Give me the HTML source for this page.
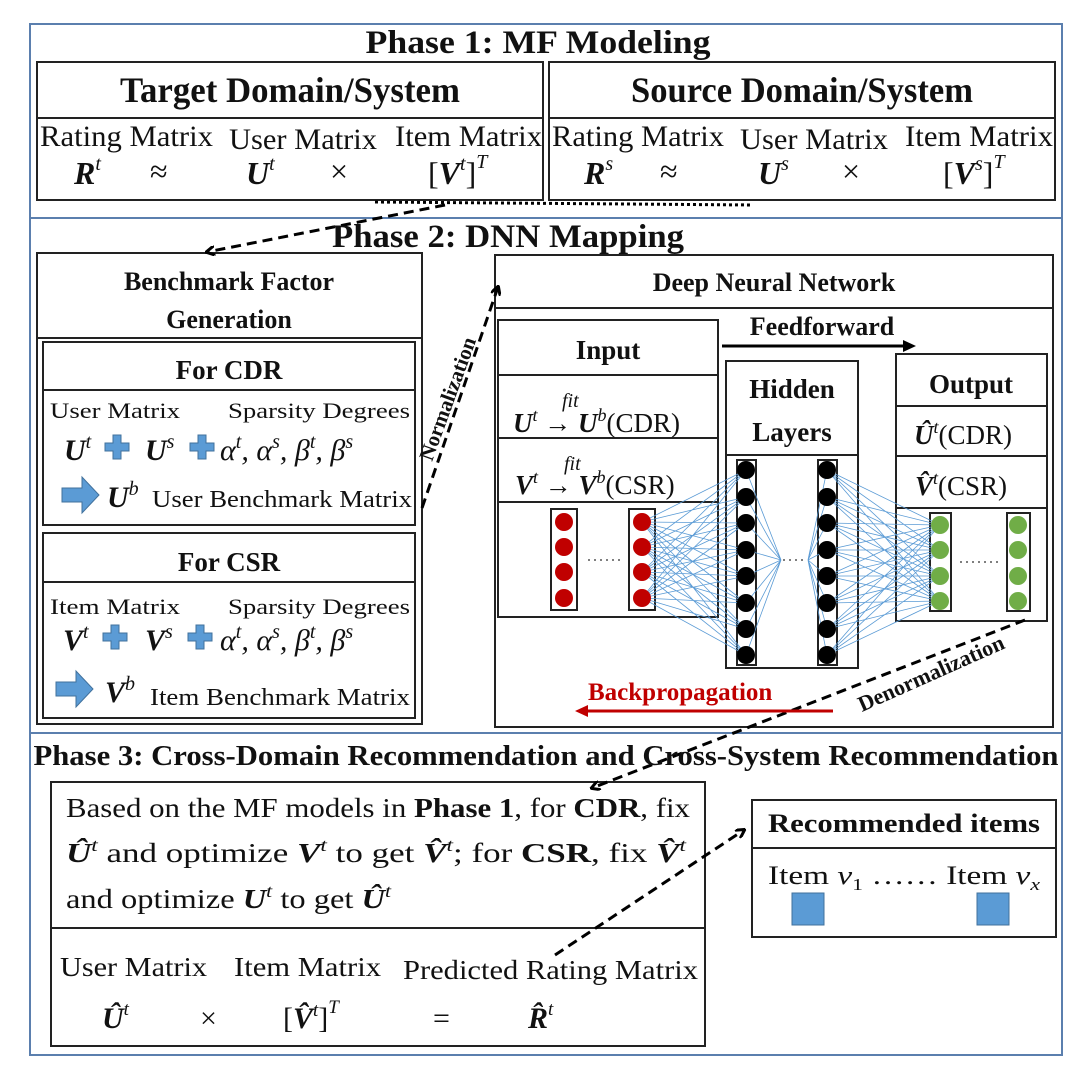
<!DOCTYPE html>
<html><head><meta charset="utf-8"><style>
html,body{margin:0;padding:0;background:#fff}
svg{display:block}
text{font-family:"Liberation Serif",serif;fill:#111}
.b{font-weight:bold}
.m{font-weight:bold;font-style:italic}
.i{font-style:italic}
</style></head><body>
<svg width="1080" height="1080" viewBox="0 0 1080 1080" xmlns="http://www.w3.org/2000/svg">
<defs>
<marker id="ah" markerWidth="10" markerHeight="10" refX="8" refY="5" orient="auto" markerUnits="userSpaceOnUse"><path d="M0,0 L9,5 L0,10" fill="none" stroke="#000" stroke-width="3"/></marker>
<g id="plus"><path d="M-4,-12h8v8h8v8h-8v8h-8v-8h-8v-8h8z" fill="#5b9bd5" stroke="#41719c" stroke-width="1"/></g>
<g id="barr"><path d="M0,-7h20v-11l17,18l-17,18v-11h-20z" fill="#5b9bd5" stroke="#41719c" stroke-width="1"/></g>
</defs>
<g fill="none" stroke="#5b7fae" stroke-width="2">
<rect x="30" y="24" width="1032" height="194"/>
<rect x="30" y="218" width="1032" height="515"/>
<rect x="30" y="733" width="1032" height="322"/>
</g>
<g fill="none" stroke="#222" stroke-width="2">
<rect x="37" y="62" width="506" height="138"/><line x1="37" y1="118" x2="543" y2="118"/>
<rect x="549" y="62" width="506" height="138"/><line x1="549" y1="118" x2="1055" y2="118"/>
<rect x="37" y="253" width="385" height="471"/><line x1="37" y1="338" x2="422" y2="338"/>
<rect x="43" y="342" width="372" height="183"/><line x1="43" y1="390" x2="415" y2="390"/>
<rect x="43" y="533" width="372" height="185"/><line x1="43" y1="582" x2="415" y2="582"/>
<rect x="495" y="255" width="558" height="472"/><line x1="495" y1="308" x2="1053" y2="308"/>
<rect x="498" y="320" width="220" height="297"/><line x1="498" y1="375" x2="718" y2="375"/><line x1="498" y1="438" x2="718" y2="438"/><line x1="498" y1="502" x2="718" y2="502"/>
<rect x="726" y="361" width="132" height="307"/><line x1="726" y1="455" x2="858" y2="455"/>
<rect x="896" y="354" width="151" height="267"/><line x1="896" y1="406" x2="1047" y2="406"/><line x1="896" y1="456" x2="1047" y2="456"/><line x1="896" y1="508" x2="1047" y2="508"/>
<rect x="51" y="782" width="654" height="264"/><line x1="51" y1="928" x2="705" y2="928"/>
<rect x="752" y="800" width="304" height="137"/><line x1="752" y1="848" x2="1056" y2="848"/>
<rect x="551" y="509" width="26" height="101"/><rect x="629" y="509" width="26" height="101"/>
<rect x="737" y="460" width="19" height="205"/><rect x="818" y="460" width="19" height="205"/>
<rect x="930" y="513" width="21" height="98"/><rect x="1007" y="513" width="23" height="98"/>
</g>
<g stroke="#5b9bd5" stroke-width="0.8" fill="none">
<path d="M642 522L746 470M642 522L746 497M642 522L746 523M642 522L746 550M642 522L746 576M642 522L746 603M642 522L746 629M642 522L746 655M642 547L746 470M642 547L746 497M642 547L746 523M642 547L746 550M642 547L746 576M642 547L746 603M642 547L746 629M642 547L746 655M642 572L746 470M642 572L746 497M642 572L746 523M642 572L746 550M642 572L746 576M642 572L746 603M642 572L746 629M642 572L746 655M642 598L746 470M642 598L746 497M642 598L746 523M642 598L746 550M642 598L746 576M642 598L746 603M642 598L746 629M642 598L746 655"/>
<path d="M746 470L781 560M746 497L781 560M746 523L781 560M746 550L781 560M746 576L781 560M746 603L781 560M746 629L781 560M746 655L781 560M827 470L808 560M827 497L808 560M827 523L808 560M827 550L808 560M827 576L808 560M827 603L808 560M827 629L808 560M827 655L808 560"/>
<path d="M827 470L940 525M827 470L940 550M827 470L940 576M827 470L940 601M827 497L940 525M827 497L940 550M827 497L940 576M827 497L940 601M827 523L940 525M827 523L940 550M827 523L940 576M827 523L940 601M827 550L940 525M827 550L940 550M827 550L940 576M827 550L940 601M827 576L940 525M827 576L940 550M827 576L940 576M827 576L940 601M827 603L940 525M827 603L940 550M827 603L940 576M827 603L940 601M827 629L940 525M827 629L940 550M827 629L940 576M827 629L940 601M827 655L940 525M827 655L940 550M827 655L940 576M827 655L940 601"/>
</g>
<g fill="#c00000">
<circle cx="564" cy="522" r="9"/><circle cx="564" cy="547" r="9"/><circle cx="564" cy="572" r="9"/><circle cx="564" cy="598" r="9"/>
<circle cx="642" cy="522" r="9"/><circle cx="642" cy="547" r="9"/><circle cx="642" cy="572" r="9"/><circle cx="642" cy="598" r="9"/>
</g>
<g fill="#000">
<circle cx="746" cy="470" r="9"/><circle cx="746" cy="497" r="9"/><circle cx="746" cy="523" r="9"/><circle cx="746" cy="550" r="9"/><circle cx="746" cy="576" r="9"/><circle cx="746" cy="603" r="9"/><circle cx="746" cy="629" r="9"/><circle cx="746" cy="655" r="9"/>
<circle cx="827" cy="470" r="9"/><circle cx="827" cy="497" r="9"/><circle cx="827" cy="523" r="9"/><circle cx="827" cy="550" r="9"/><circle cx="827" cy="576" r="9"/><circle cx="827" cy="603" r="9"/><circle cx="827" cy="629" r="9"/><circle cx="827" cy="655" r="9"/>
</g>
<g fill="#70ad47">
<circle cx="940" cy="525" r="9"/><circle cx="940" cy="550" r="9"/><circle cx="940" cy="576" r="9"/><circle cx="940" cy="601" r="9"/>
<circle cx="1018" cy="525" r="9"/><circle cx="1018" cy="550" r="9"/><circle cx="1018" cy="576" r="9"/><circle cx="1018" cy="601" r="9"/>
</g>
<g stroke="#333" stroke-width="1.2" stroke-dasharray="2,4"><line x1="588" y1="560" x2="622" y2="560"/><line x1="783" y1="560" x2="806" y2="560"/><line x1="960" y1="562" x2="998" y2="562"/></g>
<g fill="#5b9bd5" stroke="#41719c"><rect x="792" y="893" width="32" height="32"/><rect x="977" y="893" width="32" height="32"/></g>
<use href="#plus" x="117" y="447"/><use href="#plus" x="202" y="447"/>
<use href="#plus" x="115" y="637"/><use href="#plus" x="200" y="637"/>
<use href="#barr" x="62" y="495"/><use href="#barr" x="56" y="689"/>
<line x1="375" y1="202" x2="752" y2="205" stroke="#000" stroke-width="3" stroke-dasharray="3,3"/>
<g stroke="#000" stroke-width="3" stroke-dasharray="10,6" fill="none">
<line x1="445" y1="205" x2="207" y2="252" marker-end="url(#ah)"/>
<line x1="422" y1="508" x2="498" y2="287" marker-end="url(#ah)"/>
<line x1="1025" y1="620" x2="592" y2="788" marker-end="url(#ah)"/>
<line x1="555" y1="955" x2="744" y2="830" marker-end="url(#ah)"/>
</g>
<line x1="722" y1="346" x2="905" y2="346" stroke="#000" stroke-width="3"/><path d="M903,340 L916,346 L903,352z" fill="#000"/>
<line x1="833" y1="711" x2="585" y2="711" stroke="#c00000" stroke-width="3"/><path d="M588,705 L575,711 L588,717z" fill="#c00000"/>
<text x="538" y="53" class="b" font-size="33" text-anchor="middle" textLength="345" lengthAdjust="spacingAndGlyphs">Phase 1:  MF Modeling</text>
<text x="290" y="102" class="b" font-size="36" text-anchor="middle" textLength="340" lengthAdjust="spacingAndGlyphs">Target Domain/System</text>
<text x="802" y="102" class="b" font-size="36" text-anchor="middle" textLength="342" lengthAdjust="spacingAndGlyphs">Source Domain/System</text>
<g font-size="30">
<text x="40" y="146" textLength="173" lengthAdjust="spacingAndGlyphs">Rating Matrix</text>
<text x="229" y="149" textLength="148" lengthAdjust="spacingAndGlyphs">User Matrix</text>
<text x="395" y="146" textLength="147" lengthAdjust="spacingAndGlyphs">Item Matrix</text>
<text x="552" y="146" textLength="172" lengthAdjust="spacingAndGlyphs">Rating Matrix</text>
<text x="740" y="149" textLength="148" lengthAdjust="spacingAndGlyphs">User Matrix</text>
<text x="905" y="146" textLength="148" lengthAdjust="spacingAndGlyphs">Item Matrix</text>
</g>
<g font-size="32">
<text x="74" y="184" class="m">R<tspan class="i" font-weight="normal" font-size="20" dy="-14">t</tspan></text>
<text x="150" y="182">≈</text>
<text x="246" y="184" class="m">U<tspan class="i" font-weight="normal" font-size="20" dy="-14">t</tspan></text>
<text x="330" y="182">×</text>
<text x="428" y="184">[<tspan class="m">V</tspan><tspan class="i" font-size="20" dy="-14">t</tspan><tspan dy="14">]</tspan><tspan class="i" font-size="20" dy="-16">T</tspan></text>
<text x="584" y="184" class="m">R<tspan class="i" font-weight="normal" font-size="20" dy="-14">s</tspan></text>
<text x="660" y="182">≈</text>
<text x="758" y="184" class="m">U<tspan class="i" font-weight="normal" font-size="20" dy="-14">s</tspan></text>
<text x="842" y="182">×</text>
<text x="943" y="184">[<tspan class="m">V</tspan><tspan class="i" font-size="20" dy="-14">s</tspan><tspan dy="14">]</tspan><tspan class="i" font-size="20" dy="-16">T</tspan></text>
</g>
<text x="508" y="247" class="b" font-size="33" text-anchor="middle" textLength="352" lengthAdjust="spacingAndGlyphs">Phase 2: DNN Mapping</text>
<text x="229" y="290" class="b" font-size="26" text-anchor="middle">Benchmark Factor</text>
<text x="229" y="328" class="b" font-size="26" text-anchor="middle">Generation</text>
<text x="229" y="379" class="b" font-size="27" text-anchor="middle">For CDR</text>
<text x="229" y="571" class="b" font-size="27" text-anchor="middle">For CSR</text>
<g font-size="22">
<text x="50" y="418" textLength="130" lengthAdjust="spacingAndGlyphs">User Matrix</text><text x="228" y="418" textLength="182" lengthAdjust="spacingAndGlyphs">Sparsity Degrees</text>
<text x="50" y="614" textLength="130" lengthAdjust="spacingAndGlyphs">Item Matrix</text><text x="228" y="614" textLength="182" lengthAdjust="spacingAndGlyphs">Sparsity Degrees</text>
</g>
<g font-size="24">
<text x="152" y="507" textLength="260" lengthAdjust="spacingAndGlyphs">User Benchmark Matrix</text>
<text x="150" y="705" textLength="260" lengthAdjust="spacingAndGlyphs">Item Benchmark Matrix</text>
</g>
<g font-size="30">
<text x="64" y="460" class="m">U<tspan class="i" font-weight="normal" font-size="20" dy="-12">t</tspan></text>
<text x="145" y="460" class="m">U<tspan class="i" font-weight="normal" font-size="20" dy="-12">s</tspan></text>
<text x="220" y="460" class="i">α<tspan font-size="20" dy="-12">t</tspan><tspan dy="12">, α</tspan><tspan font-size="20" dy="-12">s</tspan><tspan dy="12">, β</tspan><tspan font-size="20" dy="-12">t</tspan><tspan dy="12">, β</tspan><tspan font-size="20" dy="-12">s</tspan></text>
<text x="107" y="507" class="m">U<tspan class="i" font-weight="normal" font-size="20" dy="-12">b</tspan></text>
<text x="63" y="650" class="m">V<tspan class="i" font-weight="normal" font-size="20" dy="-12">t</tspan></text>
<text x="145" y="650" class="m">V<tspan class="i" font-weight="normal" font-size="20" dy="-12">s</tspan></text>
<text x="220" y="650" class="i">α<tspan font-size="20" dy="-12">t</tspan><tspan dy="12">, α</tspan><tspan font-size="20" dy="-12">s</tspan><tspan dy="12">, β</tspan><tspan font-size="20" dy="-12">t</tspan><tspan dy="12">, β</tspan><tspan font-size="20" dy="-12">s</tspan></text>
<text x="105" y="702" class="m">V<tspan class="i" font-weight="normal" font-size="20" dy="-12">b</tspan></text>
</g>
<text transform="translate(432,462) rotate(-70)" class="b" font-size="21">Normalization</text>
<text x="774" y="291" class="b" font-size="26" text-anchor="middle">Deep Neural Network</text>
<text x="822" y="335" class="b" font-size="26" text-anchor="middle">Feedforward</text>
<text x="608" y="359" class="b" font-size="27" text-anchor="middle">Input</text>
<text x="792" y="398" class="b" font-size="27" text-anchor="middle">Hidden</text>
<text x="792" y="441" class="b" font-size="27" text-anchor="middle">Layers</text>
<text x="971" y="393" class="b" font-size="27" text-anchor="middle">Output</text>
<g font-size="27">
<text x="513" y="432"><tspan class="m">U</tspan><tspan class="i" font-size="18" dy="-11">t</tspan><tspan dy="11"> → </tspan><tspan class="m">U</tspan><tspan class="i" font-size="18" dy="-11">b</tspan><tspan dy="11">(CDR)</tspan></text>
<text x="515" y="494"><tspan class="m">V</tspan><tspan class="i" font-size="18" dy="-11">t</tspan><tspan dy="11"> → </tspan><tspan class="m">V</tspan><tspan class="i" font-size="18" dy="-11">b</tspan><tspan dy="11">(CSR)</tspan></text>
<text x="562" y="407" class="i" font-size="20">fit</text>
<text x="564" y="470" class="i" font-size="20">fit</text>
<text x="914" y="444"><tspan class="m">Û</tspan><tspan class="i" font-size="18" dy="-11">t</tspan><tspan dy="11">(CDR)</tspan></text>
<text x="915" y="495"><tspan class="m">V̂</tspan><tspan class="i" font-size="18" dy="-11">t</tspan><tspan dy="11">(CSR)</tspan></text>
</g>
<text x="588" y="700" class="b" font-size="25" style="fill:#c00000">Backpropagation</text>
<text transform="translate(862,712) rotate(-24)" class="b" font-size="22">Denormalization</text>
<text x="546" y="765" class="b" font-size="28" text-anchor="middle" textLength="1025" lengthAdjust="spacingAndGlyphs">Phase 3: Cross-Domain Recommendation and Cross-System Recommendation</text>
<g font-size="27">
<text x="66" y="817" textLength="624" lengthAdjust="spacingAndGlyphs">Based on the MF models in <tspan class="b">Phase 1</tspan>, for <tspan class="b">CDR</tspan>, fix</text>
<text x="66" y="862" textLength="620" lengthAdjust="spacingAndGlyphs"><tspan class="m">Û</tspan><tspan class="i" font-size="18" dy="-11">t</tspan><tspan dy="11"> and optimize </tspan><tspan class="m">V</tspan><tspan class="i" font-size="18" dy="-11">t</tspan><tspan dy="11"> to get </tspan><tspan class="m">V̂</tspan><tspan class="i" font-size="18" dy="-11">t</tspan><tspan dy="11">; for </tspan><tspan class="b">CSR</tspan>, fix <tspan class="m">V̂</tspan><tspan class="i" font-size="18" dy="-11">t</tspan></text>
<text x="66" y="908" textLength="325" lengthAdjust="spacingAndGlyphs">and optimize <tspan class="m">U</tspan><tspan class="i" font-size="18" dy="-11">t</tspan><tspan dy="11"> to get </tspan><tspan class="m">Û</tspan><tspan class="i" font-size="18" dy="-11">t</tspan></text>
<text x="60" y="976" textLength="147" lengthAdjust="spacingAndGlyphs">User Matrix</text>
<text x="234" y="976" textLength="147" lengthAdjust="spacingAndGlyphs">Item Matrix</text>
<text x="403" y="979" textLength="295" lengthAdjust="spacingAndGlyphs">Predicted Rating Matrix</text>
</g>
<g font-size="30">
<text x="102" y="1028" class="m">Û<tspan class="i" font-weight="normal" font-size="19" dy="-13">t</tspan></text>
<text x="200" y="1028">×</text>
<text x="283" y="1028">[<tspan class="m">V̂</tspan><tspan class="i" font-size="19" dy="-12">t</tspan><tspan dy="12">]</tspan><tspan class="i" font-size="19" dy="-15">T</tspan></text>
<text x="433" y="1028">=</text>
<text x="528" y="1028" class="m">R̂<tspan class="i" font-weight="normal" font-size="19" dy="-13">t</tspan></text>
</g>
<text x="904" y="832" class="b" font-size="26" text-anchor="middle" textLength="272" lengthAdjust="spacingAndGlyphs">Recommended items</text>
<text x="768" y="884" font-size="26" textLength="272" lengthAdjust="spacingAndGlyphs">Item <tspan class="i">v</tspan><tspan font-size="17" dy="6">1</tspan><tspan dy="-6"> …… Item </tspan><tspan class="i">v</tspan><tspan class="i" font-size="17" dy="6">x</tspan></text>
</svg>
</body></html>
